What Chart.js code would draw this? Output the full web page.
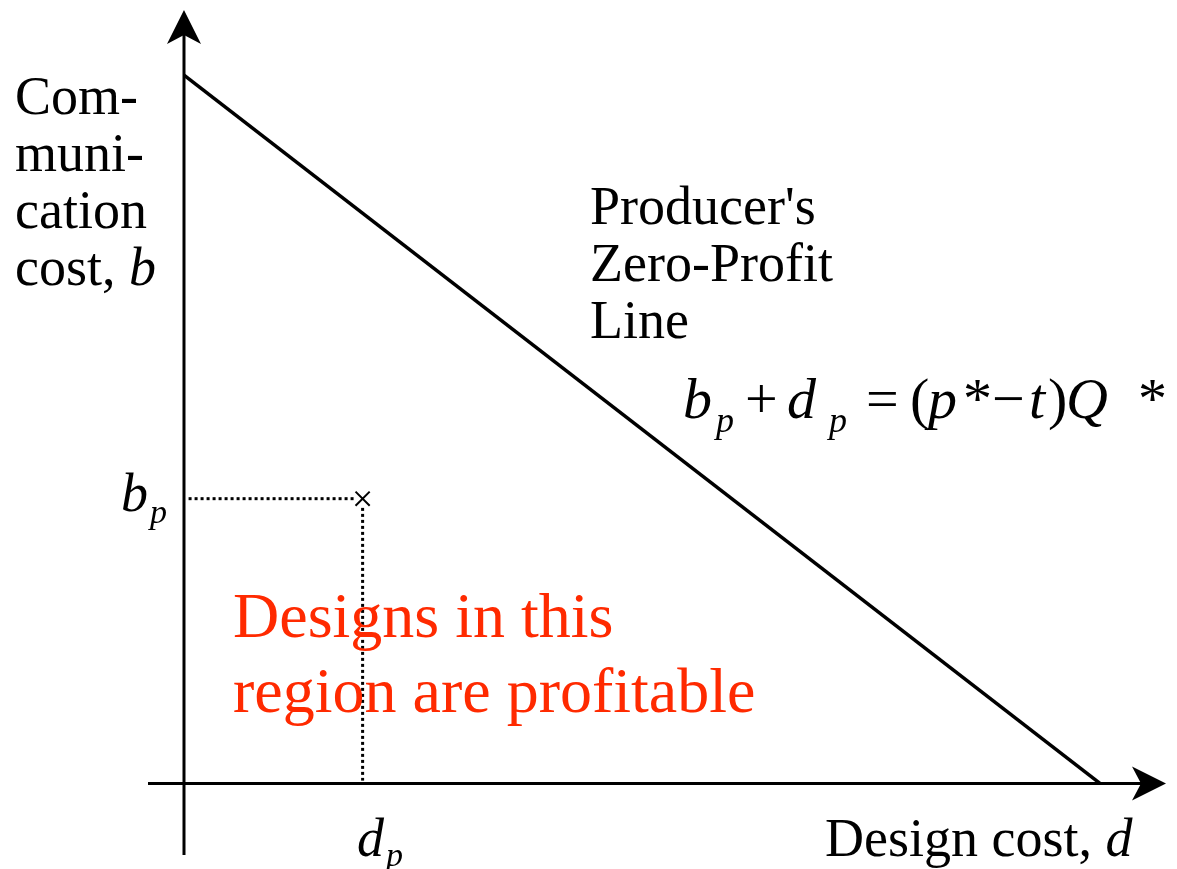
<!DOCTYPE html>
<html>
<head>
<meta charset="utf-8">
<script src="https://cdn.jsdelivr.net/npm/chart.js@4/dist/chart.umd.min.js"></script>
<style>
  html, body { margin: 0; padding: 0; background: #fff; }
  canvas { display: block; }
</style>
</head>
<body>
<canvas id="grafico" width="1177" height="869"></canvas>
<script>
// dados do diagrama (unidades arbitrárias: interceptos da linha = 100)
const linhaD = [0, 100];        // custo de projeto d na linha de lucro zero
const linhaB = [100, 0];        // custo de comunicação b na linha de lucro zero
const projetoD = [19.5];        // d_p
const projetoB = [40.2];        // b_p
const limitesX = [-3.93, 107.1];
const limitesY = [-10.1, 108.9];

const serif = '"Liberation Serif", "DejaVu Serif", serif';

// eixos com setas + textos
const eixosPlugin = {
    id: 'eixos',
    afterDatasetsDraw(chart) {
        const { ctx, scales: { x, y } } = chart;
        const x0 = x.getPixelForValue(0);
        const y0 = y.getPixelForValue(0);
        const top = y.getPixelForValue(limitesY[1]);
        const bottom = y.getPixelForValue(limitesY[0]);
        const left = x.getPixelForValue(limitesX[0]);
        const right = x.getPixelForValue(limitesX[1]);

        ctx.save();
        ctx.strokeStyle = '#000';
        ctx.fillStyle = '#000';
        ctx.lineWidth = 3;

        ctx.beginPath();
        ctx.moveTo(x0, bottom);
        ctx.lineTo(x0, top + 20);
        ctx.moveTo(left, y0);
        ctx.lineTo(right - 20, y0);
        ctx.stroke();

        // seta vertical
        ctx.beginPath();
        ctx.moveTo(x0, top - 2);
        ctx.lineTo(x0 - 17, top + 32);
        ctx.lineTo(x0, top + 23);
        ctx.lineTo(x0 + 17, top + 32);
        ctx.closePath();
        ctx.fill();

        // seta horizontal
        ctx.beginPath();
        ctx.moveTo(right + 1, y0);
        ctx.lineTo(right - 33, y0 - 17);
        ctx.lineTo(right - 24, y0);
        ctx.lineTo(right - 33, y0 + 17);
        ctx.closePath();
        ctx.fill();

        ctx.textBaseline = 'alphabetic';
        ctx.textAlign = 'left';

        const txt = (s, px, py, font, cor) => {
            ctx.font = font;
            ctx.fillStyle = cor || '#000';
            ctx.fillText(s, px, py);
            return px + ctx.measureText(s).width;
        };

        // rótulo eixo y
        const f54 = '54px ' + serif;
        const i54 = 'italic 54px ' + serif;
        txt('Com-', 15, 114, f54);
        txt('muni-', 15, 171, f54);
        txt('cation', 15, 228, f54);
        let px = txt('cost, ', 15, 285, f54);
        txt('b', px, 285, i54);

        // rótulo eixo x
        px = txt('Design cost, ', 825, 856, f54);
        txt('d', px, 856, i54);

        // linha de lucro zero
        txt("Producer's", 590, 224, f54);
        txt('Zero-Profit', 590, 281, f54);
        txt('Line', 590, 338, f54);

        // b_p e d_p
        const sub = 'italic 34px ' + serif;
        px = txt('b', 121, 511, i54);
        txt('p', px + 2, 523, sub);
        px = txt('d', 357, 856, i54);
        txt('p', px + 2, 866, sub);

        // equação
        const i58 = 'italic 58px ' + serif;
        const n58 = '58px ' + serif;
        const s36 = 'italic 36px ' + serif;
        txt('b', 683, 418, i58);
        txt('p', 716, 432, s36);
        txt('+', 745, 418, n58);
        txt('d', 787, 418, i58);
        txt('p', 829, 432, s36);
        txt('=', 866, 418, n58);
        txt('(', 910, 418, n58);
        txt('p', 928, 418, i58);
        txt('*', 963, 418, n58);
        txt('\u2212', 992, 418, n58);
        txt('t', 1029, 418, i58);
        txt(')', 1048, 418, n58);
        txt('Q', 1066, 418, i58);
        txt('*', 1138, 418, n58);

        // região lucrativa
        const r64 = '64px ' + serif;
        txt('Designs in this', 233, 637, r64, '#ff2a00');
        txt('region are profitable', 233, 712, r64, '#ff2a00');

        ctx.restore();
    }
};

new Chart(document.getElementById('grafico'), {
    type: 'scatter',
    data: {
        datasets: [
            {
                label: 'Zero-Profit Line',
                data: linhaD.map((d, i) => ({ x: d, y: linhaB[i] })),
                showLine: true,
                borderColor: '#000',
                borderWidth: 3.5,
                pointRadius: 0
            },
            {
                label: 'b_p',
                data: [{ x: 0.5, y: projetoB[0] }, { x: projetoD[0] - 0.7, y: projetoB[0] }],
                showLine: true,
                borderColor: '#000',
                borderWidth: 3,
                borderDash: [3, 3],
                pointRadius: 0
            },
            {
                label: 'd_p',
                data: [{ x: projetoD[0], y: projetoB[0] - 1.3 }, { x: projetoD[0], y: 0.4 }],
                showLine: true,
                borderColor: '#000',
                borderWidth: 3,
                borderDash: [3, 3],
                pointRadius: 0
            },
            {
                label: 'design',
                data: [{ x: projetoD[0], y: projetoB[0] }],
                pointStyle: 'crossRot',
                pointRadius: 10,
                borderColor: '#000',
                borderWidth: 2
            }
        ]
    },
    options: {
        responsive: false,
        animation: false,
        layout: { padding: { left: 148, right: 12, top: 10, bottom: 14 } },
        plugins: { legend: { display: false }, tooltip: { enabled: false } },
        scales: {
            x: { type: 'linear', display: false, min: limitesX[0], max: limitesX[1] },
            y: { type: 'linear', display: false, min: limitesY[0], max: limitesY[1] }
        }
    },
    plugins: [eixosPlugin]
});
</script>
</body>
</html>
